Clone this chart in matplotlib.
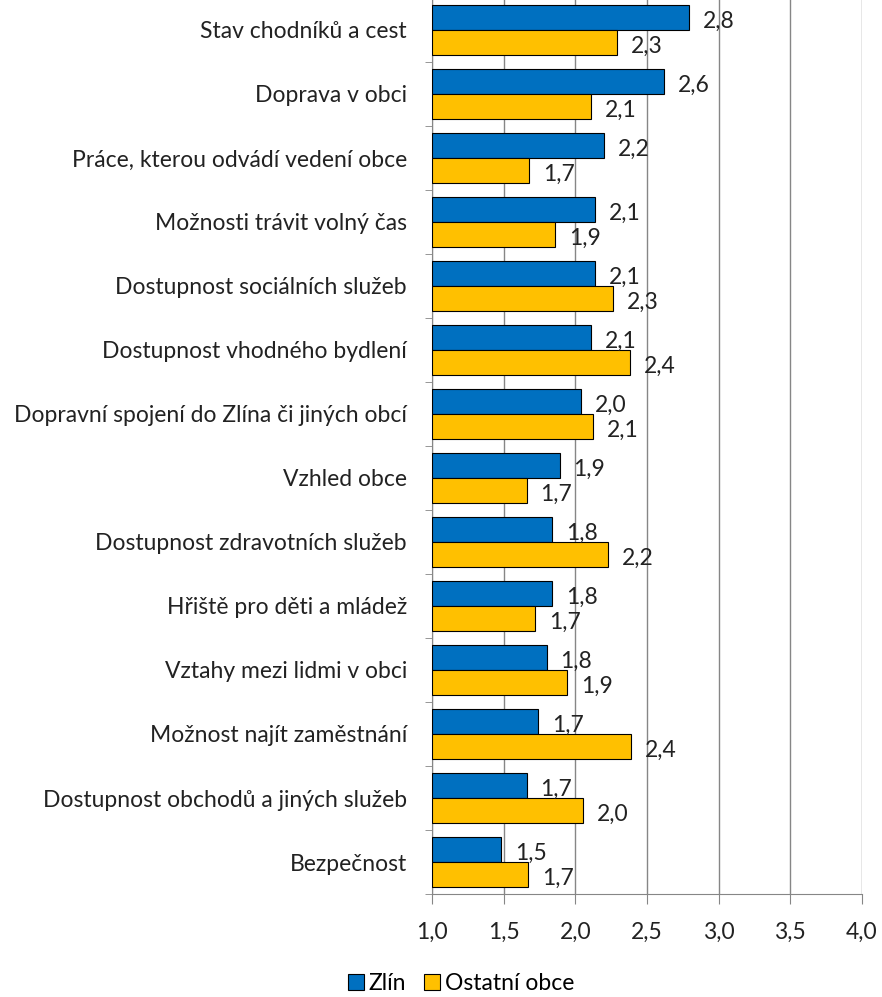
import numpy as np
import matplotlib.pyplot as plt
from matplotlib.ticker import FuncFormatter, FixedLocator

plt.rcParams['font.family'] = ['Lato', 'DejaVu Sans']

categories = [
    'Stav chodníků a cest',
    'Doprava v obci',
    'Práce, kterou odvádí vedení obce',
    'Možnosti trávit volný čas',
    'Dostupnost sociálních služeb',
    'Dostupnost vhodného bydlení',
    'Dopravní spojení do Zlína či jiných obcí',
    'Vzhled obce',
    'Dostupnost zdravotních služeb',
    'Hřiště pro děti a mládež',
    'Vztahy mezi lidmi v obci',
    'Možnost najít zaměstnání',
    'Dostupnost obchodů a jiných služeb',
    'Bezpečnost',
]
zlin = [2.79, 2.62, 2.20, 2.14, 2.14, 2.11, 2.04, 1.89, 1.84, 1.84, 1.80, 1.74, 1.66, 1.48]
ostatni = [2.29, 2.11, 1.68, 1.86, 2.26, 2.38, 2.12, 1.66, 2.23, 1.72, 1.94, 2.39, 2.05, 1.67]
series_names = ['Zlín', 'Ostatní obce']

blue = '#0070C0'
yellow = '#FFC000'
grid_c = '#868686'
fs = 16.5

W, H = 882, 997
fig = plt.figure(figsize=(W / 100, H / 100), dpi=100)
ax = fig.add_axes([432 / W, 1 - 894 / H, 430 / W, (894 + 2) / H])

n = len(categories)
y = np.arange(n)
bh = 0.39
b1 = ax.barh(y - bh / 2, np.array(zlin) - 1, left=1, height=bh, color=blue,
             edgecolor='black', linewidth=0.8, label=series_names[0], zorder=3)
b2 = ax.barh(y + bh / 2, np.array(ostatni) - 1, left=1, height=bh, color=yellow,
             edgecolor='black', linewidth=0.8, label=series_names[1], zorder=3)

for i in range(n):
    for val, yy in ((zlin[i], y[i] - bh / 2), (ostatni[i], y[i] + bh / 2)):
        ax.annotate(f'{val:.1f}'.replace('.', ','), xy=(val, yy), xytext=(10, -3),
                    textcoords='offset points', ha='left', va='center',
                    fontsize=fs, color='#222222', zorder=4)

ax.set_xlim(1.0, 4.0)
ax.set_ylim(n - 0.5, -0.5)
ax.set_xticks(np.arange(1.0, 4.01, 0.5))
ax.xaxis.set_major_formatter(FuncFormatter(lambda v, p: f'{v:.1f}'.replace('.', ',')))
ax.tick_params(axis='x', labelsize=fs, length=7, color=grid_c, pad=13, labelcolor='#222222')
ax.set_yticks(y)
ax.set_yticklabels(categories)
ax.tick_params(axis='y', which='major', length=0, labelsize=fs, pad=18, labelcolor='#222222')
ax.yaxis.set_minor_locator(FixedLocator(np.arange(-0.5, n, 1.0)))
ax.tick_params(axis='y', which='minor', length=5, color=grid_c)
ax.grid(axis='x', color=grid_c, linewidth=1, zorder=0)
for s in ('top', 'right'):
    ax.spines[s].set_visible(False)
for s in ('left', 'bottom'):
    ax.spines[s].set_color(grid_c)

fig.legend(handles=[b1, b2], loc='upper center', bbox_to_anchor=(461 / W, 1 - 962 / H),
           ncol=2, frameon=False, fontsize=fs, handlelength=0.7, handleheight=0.7,
           handletextpad=0.2, columnspacing=0.8, borderpad=0)

fig.savefig('out.png', dpi=100)
